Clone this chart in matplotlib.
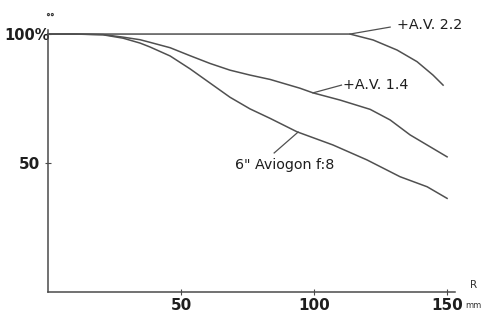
import matplotlib
matplotlib.use("Agg")
import matplotlib.pyplot as plt
from matplotlib.transforms import ScaledTranslation

# -------------------------------------------------------------------------
# Data (R in mm, relative illumination in %)
# -------------------------------------------------------------------------

r_av22 = [0, 50, 100, 113.5, 122.2, 131.2, 138.7, 144.7, 148.5]
e_av22 = [100, 100, 100, 100, 97.7, 93.8, 89.3, 84.1, 80.2]

r_av14 = [0, 10, 20.7, 28.2, 34.6, 38.3, 45.9, 53.4, 60.9, 68.4, 75.9,
          83.5, 94.7, 99.6, 109.8, 121.1, 128.6, 136.1, 150]
e_av14 = [100, 100, 99.8, 98.8, 97.8, 96.8, 94.7, 91.6, 88.6, 86.0, 84.1,
          82.4, 79.0, 77.2, 74.4, 70.8, 66.7, 60.9, 52.4]

r_avio = [0, 10, 20.7, 28.2, 34.6, 38.3, 45.9, 53.4, 60.9, 68.4, 75.9,
          83.5, 93.6, 107.1, 119.9, 132.3, 142.5, 150]
e_avio = [100, 100, 99.7, 98.4, 96.5, 95.0, 91.5, 86.5, 81.0, 75.5, 71.0,
          67.3, 62.1, 57.0, 51.2, 44.7, 40.8, 36.3]

x_ticks = [50, 100, 150]
x_labels = ["50", "100", "150"]
y_ticks = [50, 100]
y_labels = ["50", "100%"]

plt.rcParams['font.family'] = ['DejaVu Sans']

LINE = "#505050"
AXIS = "#4a4a4a"
TEXT = "#1e1e1e"

fig = plt.figure(figsize=(4.83, 3.12), dpi=100)
ax = fig.add_axes([0, 0, 1, 1])
ax.set_xlim(-18.05, 163.5)
ax.set_ylim(-7.75, 113.2)

for r, e in [(r_av22, e_av22), (r_av14, e_av14), (r_avio, e_avio)]:
    ax.plot(r, e, color=LINE, lw=1.1, solid_joinstyle="round")

# axes through the origin
for s in ["top", "right"]:
    ax.spines[s].set_visible(False)
for s in ["left", "bottom"]:
    ax.spines[s].set_position(("data", 0))
    ax.spines[s].set_color(AXIS)
    ax.spines[s].set_linewidth(1.1)
ax.spines["left"].set_bounds(0, 101.5)
ax.spines["bottom"].set_bounds(0, 153)

ax.set_xticks(x_ticks)
ax.set_xticklabels(x_labels, fontsize=11, fontweight="bold", color=TEXT)
ax.set_yticks(y_ticks)
ax.set_yticklabels(y_labels, fontsize=11, fontweight="bold", color=TEXT)
ax.tick_params(axis="x", direction="inout", length=4, width=0.8, color=AXIS, pad=2.5)
ax.tick_params(axis="y", direction="inout", length=4, width=0.8, color=AXIS, pad=4)

# "100%" sits right against the axis in the original
lbl = ax.get_yticklabels()[1]
lbl.set_fontsize(10.5)
lbl.set_transform(lbl.get_transform() + ScaledTranslation(7 / 72, 0, fig.dpi_scale_trans))

# axis captions
ax.text(158.6, 0.8, "R", fontsize=7.5, color="#333333", ha="left", va="bottom")
ax.text(156.8, -5.3, "mm", fontsize=6, color="#333333", ha="left", va="center")
ax.text(0.8, 106.5, "°°", fontsize=7, fontweight="bold", color="#333333",
        ha="center", va="center")

# curve labels with leader lines
lab = dict(fontsize=10.3, color=TEXT, va="center", ha="left")
ax.plot([113.5, 128.6], [100, 102.7], color=LINE, lw=0.9)
ax.text(131.2, 103.4, "+A.V. 2.2", **lab)
ax.plot([99.6, 110.3], [77.2, 80.2], color=LINE, lw=0.9)
ax.text(110.9, 80.2, "+A.V. 1.4", **lab)
ax.plot([94.0, 85.0], [62.0, 53.9], color=LINE, lw=0.9)
ax.text(70.3, 49.2, "6\" Aviogon f:8", **lab)

fig.savefig("out.png", dpi=100)
